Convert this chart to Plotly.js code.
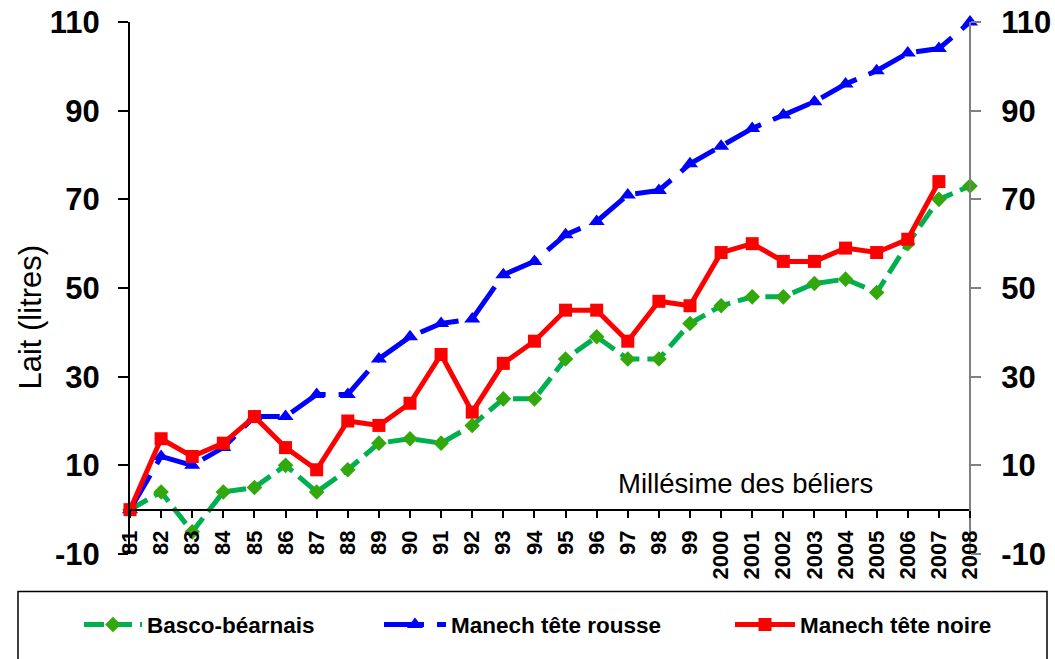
<!DOCTYPE html>
<html><head><meta charset="utf-8">
<script src="https://cdn.plot.ly/plotly-3.0.1.min.js"></script>
<style>html,body{margin:0;padding:0;background:#fff}#chart{width:1055px;height:659px}</style>
</head><body><div id="chart"></div>
<script>
const years = ['81','82','83','84','85','86','87','88','89','90','91','92','93','94','95','96','97','98','99','2000','2001','2002','2003','2004','2005','2006','2007','2008'];
const yTicks = [-10,10,30,50,70,90,110];
const yTickText = ['-10','10','30','50','70','90','110'];
const basco = [0,4,-5,4,5,10,4,9,15,16,15,19,25,25,34,39,34,34,42,46,48,48,51,52,49,60,70,73];
const rousse = [0,12,10,14,21,21,26,26,34,39,42,43,53,56,62,65,71,72,78,82,86,89,92,96,99,103,104,110];
const noire = [0,16,12,15,21,14,9,20,19,24,35,22,33,38,45,45,38,47,46,58,60,56,56,59,58,61,74,null];
const seriesNames = ['Basco-béarnais','Manech tête rousse','Manech tête noire'];

const FF = 'Liberation Sans, Arial, sans-serif';
const W = 1055, H = 659, L = 130, R = 85, T = 22, B = 97;
const pw = W - L - R, ph = H - T - B;
const px = v => (v - L) / pw;
const py = v => (H - B - v) / ph;

const traces = [
  {x: years, y: basco, name: seriesNames[0], type: 'scatter', mode: 'lines+markers', cliponaxis: false,
   line: {color: '#00B050', width: 5, dash: '20px,8px'},
   marker: {symbol: 'diamond', size: 12, color: '#33A80C'}, legend: 'legend'},
  {x: years, y: rousse, name: seriesNames[1], type: 'scatter', mode: 'lines+markers', cliponaxis: false,
   line: {color: '#0000FF', width: 5, dash: '40px,13px'},
   marker: {symbol: 'triangle-up', size: 14, color: '#0000FF'}, legend: 'legend2'},
  {x: years, y: noire, name: seriesNames[2], type: 'scatter', mode: 'lines+markers', cliponaxis: false,
   line: {color: '#FF0000', width: 5},
   marker: {symbol: 'square', size: 13, color: '#FF0000'}, legend: 'legend3'},
  // carries the right-hand mirror axis
  {x: [years[0]], y: [null], yaxis: 'y2', type: 'scatter', mode: 'lines', showlegend: false, hoverinfo: 'skip'}
];

const legendFont = {family: FF, size: 22.5, color: '#000', weight: 'bold'};
const legBase = {orientation: 'h', xanchor: 'left', yanchor: 'middle', y: py(634), bgcolor: 'rgba(0,0,0,0)', borderwidth: 0, font: legendFont};
const yTickFont = {family: FF, size: 31, color: '#000', weight: 'bold'};

const layout = {
  width: W, height: H,
  margin: {l: L, r: R, t: T, b: B, pad: 0},
  paper_bgcolor: '#fff', plot_bgcolor: '#fff',
  showlegend: true,
  xaxis: {type: 'category', range: [0, 27], anchor: 'free', position: 10/120,
    tickmode: 'array', tickvals: years, ticktext: years,
    showline: true, linecolor: '#000', linewidth: 2,
    ticks: 'outside', ticklen: 7, tickwidth: 2, tickcolor: '#000',
    ticklabelstandoff: 4,
    tickangle: -90, tickfont: {family: FF, size: 22, color: '#000', weight: 'bold'},
    showgrid: false, zeroline: false, fixedrange: true},
  yaxis: {range: [-10, 110], domain: [0, 1], anchor: 'x',
    tickmode: 'array', tickvals: yTicks, ticktext: yTickText,
    showline: true, linecolor: '#000', linewidth: 2,
    ticks: 'outside', ticklen: 10, tickwidth: 2, tickcolor: '#000',
    ticklabelstandoff: 12, tickfont: yTickFont,
    showgrid: false, zeroline: false, fixedrange: true},
  yaxis2: {range: [-10, 110], overlaying: 'y', side: 'right', anchor: 'free', position: 1,
    tickmode: 'array', tickvals: yTicks, ticktext: yTickText,
    showline: true, linecolor: '#808080', linewidth: 2,
    ticks: 'outside', ticklen: 10, tickwidth: 2, tickcolor: '#808080',
    ticklabelstandoff: 14, tickfont: yTickFont,
    showgrid: false, zeroline: false, fixedrange: true},
  legend: Object.assign({}, legBase, {x: px(79), itemwidth: 58}),
  legend2: Object.assign({}, legBase, {x: px(379), itemwidth: 62}),
  legend3: Object.assign({}, legBase, {x: px(730), itemwidth: 60}),
  shapes: [
    {type: 'rect', xref: 'paper', yref: 'paper', x0: px(18), x1: px(1047), y0: py(600), y1: py(690),
     line: {color: '#000', width: 1.5}, fillcolor: 'rgba(0,0,0,0)', layer: 'above'}
  ],
  annotations: [
    {text: 'Millésime des béliers', xref: 'paper', yref: 'paper', x: px(745), y: py(490),
     xanchor: 'center', yanchor: 'middle', showarrow: false,
     font: {family: FF, size: 27.5, color: '#000'}},
    {text: 'Lait (litres)', xref: 'paper', yref: 'paper', x: px(31), y: py(322), textangle: -90,
     xanchor: 'center', yanchor: 'middle', showarrow: false,
     font: {family: FF, size: 31, color: '#000'}}
  ]
};

Plotly.newPlot('chart', traces, layout, {displayModeBar: false, staticPlot: true});
</script></body></html>
